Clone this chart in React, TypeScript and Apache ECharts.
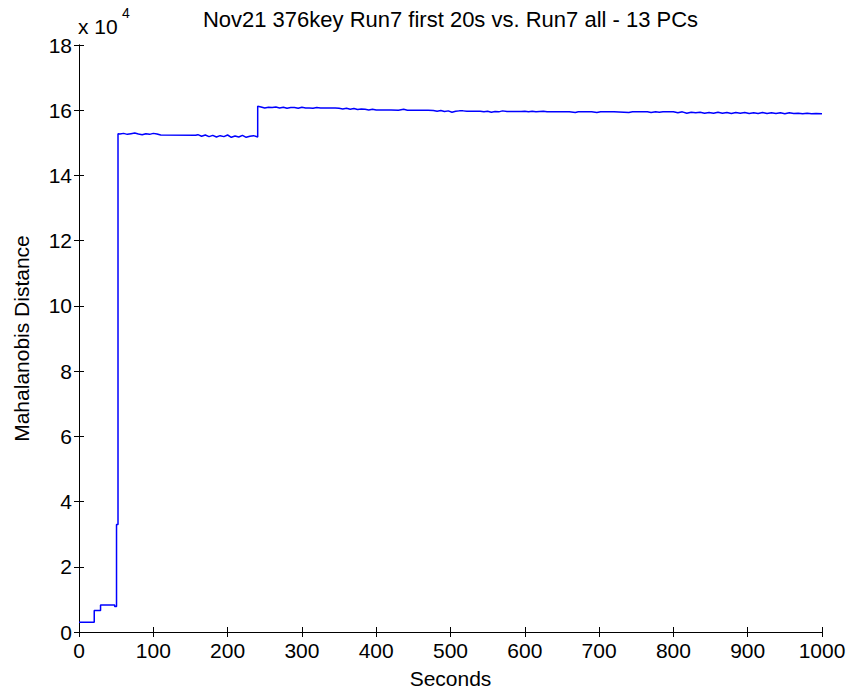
import React, { useEffect, useRef } from "react";
import * as echarts from "echarts";

const titleText = "Nov21 376key Run7 first 20s vs. Run7 all - 13 PCs";
const xName = "Seconds";
const yName = "Mahalanobis Distance";

// time (s)
const seconds: number[] = [
  0, 20.5, 20.5, 29, 29, 48, 48, 50.5, 50.5, 52.5, 52.5,
  55, 60, 65, 70, 75, 80, 85, 90, 95, 100, 105, 110, 157,
  160, 165, 170, 175, 180, 185, 190, 195, 200, 205, 210, 215, 220, 225, 230, 235, 240.5,
  240.5, 245, 250, 255, 260, 265, 270, 275, 280, 285, 290, 295, 300, 305, 310, 315, 320,
  325, 330, 335, 340, 345, 350, 355, 360, 365, 370, 375, 380, 385, 390, 395, 400, 405,
  410, 420, 430, 437, 442, 450, 460, 470, 477, 482, 487, 492, 497, 502, 507, 512, 517,
  522, 530, 540, 545, 550, 555, 560, 565, 570, 576, 585, 595, 600, 605, 610, 615, 620,
  625, 630, 640, 650, 660, 668, 672, 690, 697, 702, 720, 740, 745, 765, 770, 776, 781,
  786, 800, 806, 812, 818, 824, 830, 836, 842, 848, 854, 860, 866, 872, 878, 884, 890,
  896, 902, 908, 914, 920, 926, 932, 938, 944, 950, 956, 962, 968, 974, 980, 986, 992, 1000,
];

// Mahalanobis distance (raw)
const distance: number[] = [
  3000, 3000, 6600, 6600, 8300, 8300, 7800, 7800, 33000, 33000, 152800,
  152700, 152900, 152600, 152800, 153000, 152700, 152500, 152800, 152600, 152900, 152700, 152400, 152300,
  152500, 152000, 152400, 151900, 152300, 151800, 152200, 151900, 152400, 151700, 152100, 151800, 152300, 151700, 152000, 152200, 151800,
  161200, 161000, 160700, 160900, 160800, 161000, 160700, 160900, 160600, 160800, 160800, 160600, 160900, 160700, 160700, 160600, 160800,
  160700, 160700, 160700, 160700, 160700, 160600, 160400, 160600, 160300, 160500, 160200, 160400, 160300, 160100, 160300, 160100, 160100,
  160100, 160100, 160000, 160300, 160000, 160000, 160000, 160000, 159900, 159700, 159900, 159600, 159800, 159400, 159700, 159800, 159800,
  159700, 159700, 159700, 159500, 159700, 159400, 159600, 159500, 159800, 159600, 159600, 159600, 159700, 159500, 159700, 159500, 159600,
  159700, 159500, 159500, 159500, 159500, 159300, 159500, 159500, 159300, 159500, 159500, 159300, 159500, 159500, 159300, 159500, 159400,
  159500, 159500, 159200, 159500, 159100, 159400, 159200, 159400, 159100, 159300, 159100, 159400, 159100, 159300, 159000, 159300, 159100,
  159300, 159000, 159200, 159000, 159300, 159000, 159200, 159000, 159200, 158900, 159200, 159000, 159100, 158900, 159100, 158900, 159000, 158900,
];

const xMin = 0;
const xMax = 1000;
const xStep = 100;
const yMin = 0;
const yMax = 180000;
const yStep = 20000;

const FONT = "'Liberation Sans', Arial, Helvetica, sans-serif";

export default function App() {
  const ref = useRef<HTMLDivElement>(null);
  useEffect(() => {
    if (!ref.current) return;
    const chart = echarts.init(ref.current, null, { renderer: "svg" });
    const pts = seconds.map((t, i) => [t, distance[i]]);
    const axisLine = { show: true, lineStyle: { color: "#000", width: 1 } };
    const tick = { show: true, inside: true, length: 5, lineStyle: { color: "#000", width: 1 } };
    chart.setOption({
      animation: false,
      backgroundColor: "#fff",
      grid: { left: 79, right: 27, top: 45, bottom: 62, containLabel: false },
      xAxis: [
        {
          type: "value",
          min: xMin,
          max: xMax,
          interval: xStep,
          position: "bottom",
          name: xName,
          nameLocation: "middle",
          nameGap: 36,
          nameTextStyle: { fontFamily: FONT, fontSize: 21, color: "#000" },
          axisLine,
          axisTick: tick,
          axisLabel: {
            fontFamily: FONT,
            fontSize: 21,
            color: "#000",
            margin: 8,
            formatter: (v: number) => String(v),
          },
          splitLine: { show: false },
        },
        {
          type: "value",
          min: xMin,
          max: xMax,
          interval: xStep,
          position: "top",
          axisLine,
          axisTick: tick,
          axisLabel: { show: false },
          splitLine: { show: false },
        },
      ],
      yAxis: [
        {
          type: "value",
          min: yMin,
          max: yMax,
          interval: yStep,
          position: "left",
          name: yName,
          nameLocation: "middle",
          nameGap: 47,
          nameTextStyle: { fontFamily: FONT, fontSize: 21, color: "#000" },
          axisLine,
          axisTick: tick,
          axisLabel: {
            fontFamily: FONT,
            fontSize: 21,
            color: "#000",
            margin: 7,
            formatter: (v: number) => String(v / 10000),
          },
          splitLine: { show: false },
        },
        {
          type: "value",
          min: yMin,
          max: yMax,
          interval: yStep,
          position: "right",
          axisLine,
          axisTick: tick,
          axisLabel: { show: false },
          splitLine: { show: false },
        },
      ],
      graphic: [
        {
          type: "text",
          x: 450.5,
          y: 19,
          style: {
            text: titleText,
            fontFamily: FONT,
            fontSize: 22,
            fill: "#000",
            textAlign: "center",
            textVerticalAlign: "middle",
          },
        },
        {
          type: "text",
          left: 78,
          top: 16,
          style: { text: "x 10", fontFamily: FONT, fontSize: 21, fill: "#000" },
        },
        {
          type: "text",
          left: 122,
          top: 6,
          style: { text: "4", fontFamily: FONT, fontSize: 14, fill: "#000" },
        },
      ],
      series: [
        {
          type: "line",
          data: pts,
          xAxisIndex: 0,
          yAxisIndex: 0,
          showSymbol: false,
          symbol: "none",
          lineStyle: { color: "#0000ff", width: 1.5 },
        },
      ],
    });
    return () => chart.dispose();
  }, []);
  return (
    <div
      ref={ref}
      style={{ position: "fixed", left: 0, top: 0, width: 849, height: 694, background: "#fff" }}
    />
  );
}
